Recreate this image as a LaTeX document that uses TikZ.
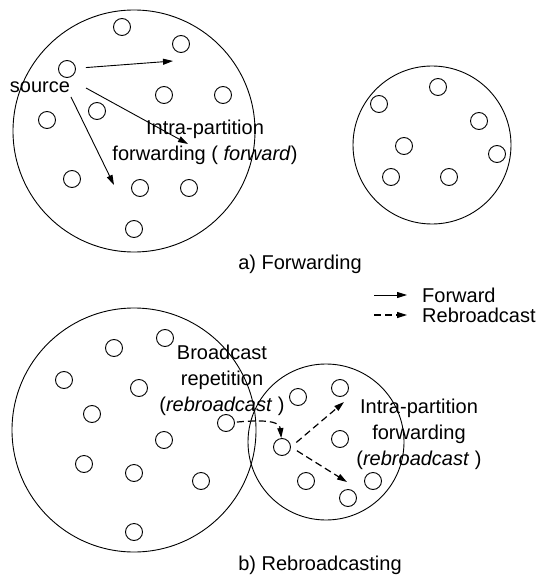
\documentclass[tikz,border=0pt]{standalone}
\usepackage{fontspec}
\setmainfont{Liberation Sans}
\usetikzlibrary{arrows.meta}
\tikzset{
  host/.style={draw, circle, minimum size=17pt, inner sep=0pt, line width=0.9pt},
  part/.style={draw, circle, inner sep=0pt, line width=0.9pt},
  lbl/.style={font=\fontsize{20}{26}\selectfont, align=center, inner sep=0pt},
  fwd/.style={-{Triangle[length=10pt,width=6pt]}, line width=0.9pt},
  rbc/.style={fwd, line width=1.2pt, dash pattern=on 7pt off 4pt},
}
\begin{document}
\begin{tikzpicture}[x=1pt, y=-1pt]
        \useasboundingbox (0,0) rectangle (538,577);
        % Partitions
        \node[part, minimum size=242pt] (A) at (134,131) {};
        \node[part, minimum size=158pt] (B) at (432,145) {};
        \node[part, minimum size=244pt] (C) at (134,430) {};
        \node[part, minimum size=156pt] (D) at (326,442) {};

        % Hosts of a)
        \node[host] (a1) at (122,27) {};
        \node[host] (a2) at (181,44) {};
        \node[host] (a3) at (67,69) {};
        \node[host] (a4) at (164,95) {};
        \node[host] (a5) at (223,95) {};
        \node[host] (a6) at (97,111) {};
        \node[host] (a7) at (47,120) {};
        \node[host] (a8) at (72,179) {};
        \node[host] (a9) at (140,188) {};
        \node[host] (a10) at (189,188) {};
        \node[host] (a11) at (134,229) {};

        \node[host] (b1) at (438,87) {};
        \node[host] (b2) at (379,104) {};
        \node[host] (b3) at (479,121) {};
        \node[host] (b4) at (404,146) {};
        \node[host] (b5) at (497,154) {};
        \node[host] (b6) at (391,177) {};
        \node[host] (b7) at (449,177) {};

        % Hosts of b)
        \node[host] (c1) at (165,338) {};
        \node[host] (c2) at (114,348) {};
        \node[host] (c3) at (64,380) {};
        \node[host] (c4) at (139,388) {};
        \node[host] (c5) at (92,414) {};
        \node[host] (c6) at (226,423) {};
        \node[host] (c7) at (164,440) {};
        \node[host] (c8) at (84,464) {};
        \node[host] (c9) at (134,473) {};
        \node[host] (c10) at (201,481) {};
        \node[host] (c11) at (134,532) {};

        \node[host] (d1) at (298,397) {};
        \node[host] (d2) at (340,388) {};
        \node[host] (d3) at (340,439) {};
        \node[host] (d4) at (282,447) {};
        \node[host] (d5) at (306,481) {};
        \node[host] (d6) at (373,481) {};
        \node[host] (d7) at (348,498) {};

        % Labels
        \node[lbl] (src) at (40,87) {source};
        \node[lbl] (ipfa) at (205,142) {Intra-partition\\forwarding ( \textit{forward})};
        \node[lbl] (capa) at (300,264) {a) Forwarding};
        \node[lbl] (brep) at (222,380) {Broadcast\\repetition\\(\textit{rebroadcast} )};
        \node[lbl] (ipfb) at (419,434) {Intra-partition\\forwarding\\(\textit{rebroadcast} )};
        \node[lbl] (capb) at (320,565) {b) Rebroadcasting};
        \node[lbl, anchor=west] (lf) at (422,295) {Forward};
        \node[lbl, anchor=west] (lr) at (422,315) {Rebroadcast};

        \coordinate (s2) at (86,88);
        \coordinate (s3) at (71,97);
        \coordinate (t1) at (173,61);
        \coordinate (t2) at (188,144);
        \coordinate (t3) at (114,185);
        \coordinate (u1) at (344,402);
        \coordinate (u2) at (347,482);
        \coordinate (lf0) at (374,295);
        \coordinate (lr0) at (374,315);

        % Edges
        \draw[fwd, shorten <=10pt] (a3) -- (t1);
        \draw[fwd] (s2) -- (t2);
        \draw[fwd] (s3) -- (t3);
        \draw[rbc, shorten <=2pt] (c6) to[out=5, in=95] (d4);
        \draw[rbc, shorten <=7pt] (d4.east) -- (u1);
        \draw[rbc, shorten <=7pt] (d4.east) -- (u2);
        \draw[fwd, shorten >=15pt] (lf0) -- (lf.west);
        \draw[rbc, shorten >=15pt] (lr0) -- (lr.west);
\end{tikzpicture}
\end{document}
